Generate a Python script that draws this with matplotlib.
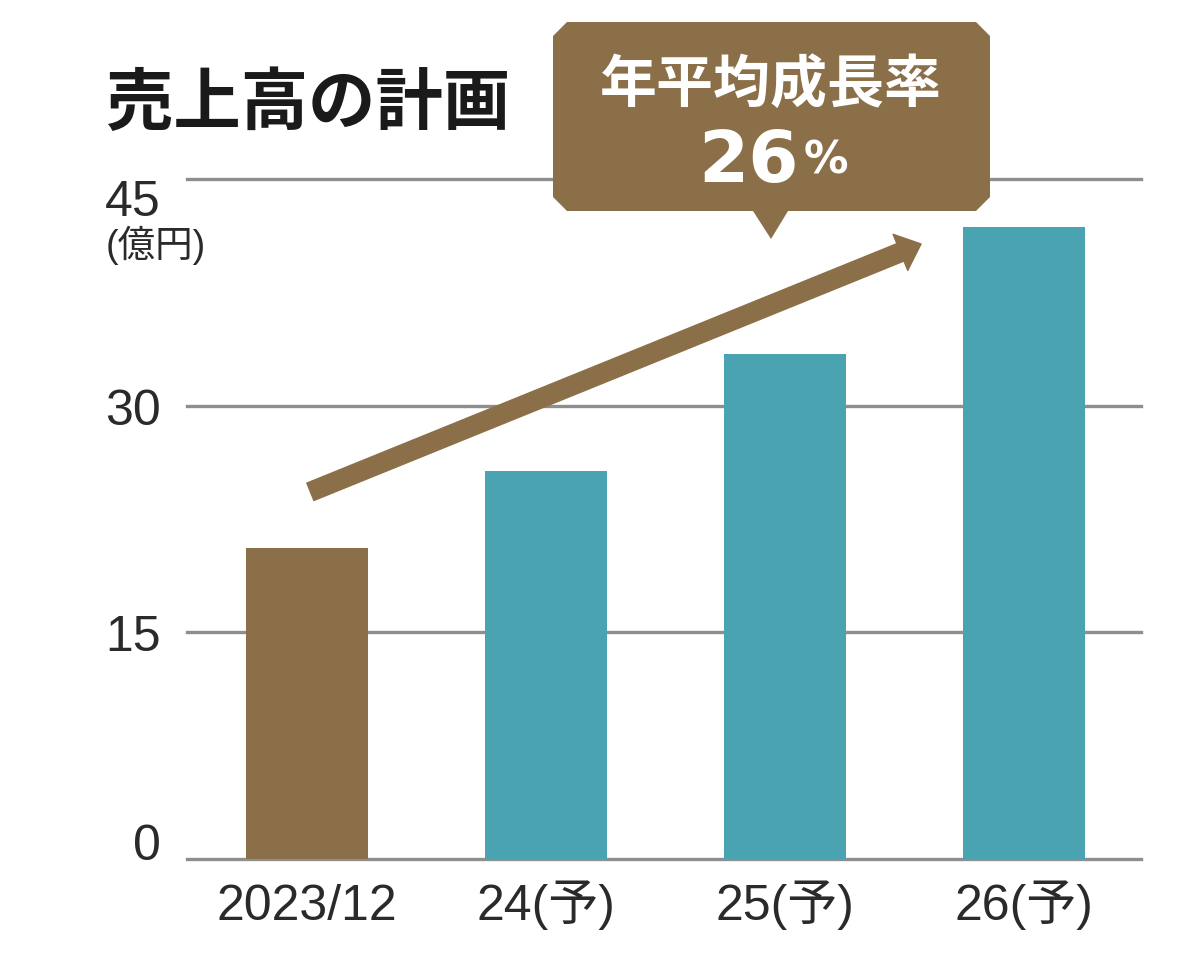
import numpy as np
import matplotlib
matplotlib.use("Agg")
import matplotlib.pyplot as plt
from matplotlib.patches import Polygon, FancyArrowPatch

# data
categories = ["2023/12", "24(予)", "25(予)", "26(予)"]
sales = [20.6, 25.7, 33.4, 41.8]
is_forecast = [False, True, True, True]
yticks = [0, 15, 30, 45]
trend_start = (0.016, 24.3)
trend_end = (2.57, 40.7)
title = "売上高の計画"
unit = "(億円)"
callout_title = "年平均成長率"
callout_value = "26"

BROWN = "#8b6f48"
TEAL = "#49a3b1"
GRID = "#8e8e8e"
TXT = "#2a2a2a"

W, H = 1182, 979
fig = plt.figure(figsize=(W / 100, H / 100), dpi=100)
fig.patch.set_facecolor("white")


def px(x, y):
    "pikselowe wspolrzedne -> ulamek figury"
    return (x / W, 1 - y / H)


ax = fig.add_axes([187 / W, 1 - 860 / H, (1141 - 187) / W, 680 / H])
x = np.arange(len(categories))
colors = [TEAL if f else BROWN for f in is_forecast]
ax.bar(x, sales, width=0.51, color=colors, zorder=2)
ax.set_xlim(-0.5, 3.49)
ax.set_ylim(0, 45)

for s in ax.spines.values():
    s.set_visible(False)

ax.set_yticks(yticks)
ax.set_yticklabels([str(t) for t in yticks], family="Liberation Sans", fontsize=36, color=TXT)
ax.tick_params(axis="y", length=0, pad=19)
labs = ax.get_yticklabels()
labs[0].set_va("baseline")
labs[-1].set_va("top")

ax.set_xticks(x)
ax.set_xticklabels(categories, family=["Liberation Sans", "Noto Sans CJK JP"], fontsize=36, color=TXT)
ax.tick_params(axis="x", length=0, pad=43)
for lab in ax.get_xticklabels():
    lab.set_va("baseline")

ax.set_axisbelow(True)
ax.yaxis.grid(True, color=GRID, linewidth=2.4)
for gl in ax.get_ygridlines():
    gl.set_clip_on(False)

# strzalka trendu
arr = FancyArrowPatch(trend_start, trend_end, arrowstyle="simple,head_length=1.6,head_width=2.8,tail_width=1.35",
                      mutation_scale=10, color=BROWN, shrinkA=0, shrinkB=0, zorder=3)
ax.add_patch(arr)

# tytul i jednostka
fig.text(*px(106, 104), title, family="Noto Sans CJK JP", fontweight="bold", fontsize=48.5,
         color="#1a1a1a", ha="left", va="center")
fig.text(*px(106, 245), unit, family=["Liberation Sans", "Noto Sans CJK JP"], fontsize=27,
         color=TXT, ha="left", va="center")

# dymek
c = 14
box = [(553 + c, 23), (990 - c, 23), (990, 23 + c), (990, 212 - c), (990 - c, 212),
       (788, 212), (771, 240), (753, 212), (553 + c, 212), (553, 212 - c), (553, 23 + c)]
fig.patches.append(Polygon([px(*p) for p in box], closed=True, transform=fig.transFigure,
                           facecolor=BROWN, edgecolor="none", zorder=5))
fig.text(*px(771, 85), callout_title, family="Noto Sans CJK JP", fontweight="bold", fontsize=41,
         color="white", ha="center", va="center", zorder=6)
fig.text(*px(799, 182), callout_value, family="DejaVu Sans", fontweight="bold", fontsize=52,
         color="white", ha="right", va="baseline", zorder=6)
fig.text(*px(804, 174), "%", family="DejaVu Sans", fontweight="bold", fontsize=32,
         color="white", ha="left", va="baseline", zorder=6)

fig.savefig("out.png", dpi=100, facecolor="white")
